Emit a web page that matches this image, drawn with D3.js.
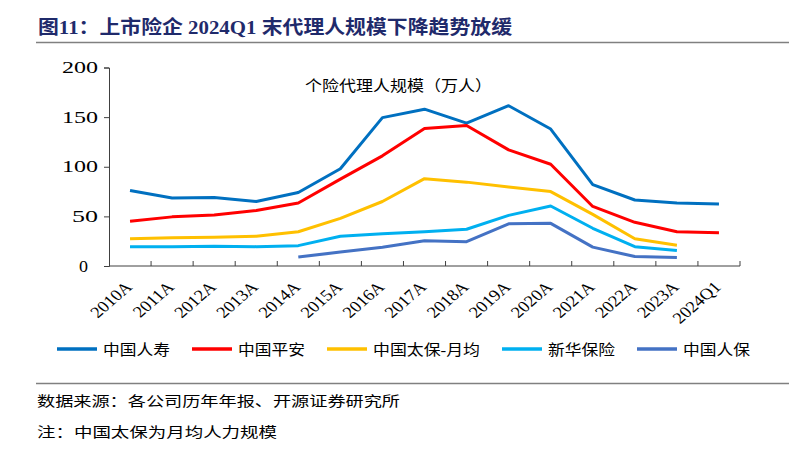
<!DOCTYPE html>
<html><head><meta charset="utf-8">
<script src="https://cdn.jsdelivr.net/npm/d3@7"></script>
<style>
body{margin:0;background:#fff;}
svg{display:block;}
</style></head><body>
<svg id="c" width="789" height="464"></svg>
<script>
const categories = ["2010A","2011A","2012A","2013A","2014A","2015A","2016A","2017A","2018A","2019A","2020A","2021A","2022A","2023A","2024Q1"];
const chinaLife = [76,68.5,69,65,74,98,149.5,158,144,161.5,138,82,66.5,63.5,62.5];
const pingAn = [45,49.5,51.5,56,63.5,87.5,111,138.5,141.5,117,102.5,60,44,34.5,33.5];
const cpic = [27.5,28.5,29,30,34.5,48,65,88,84.5,79.5,75,52,27.5,21,null];
const nci = [19.5,19.5,20,19.5,20.5,30,32.5,34.5,37,51,60.5,38,19.5,15.5,null];
const picc = [null,null,null,null,9,14,19,25.5,24.5,42.5,43,19,9.5,8.5,null];
const yTicks = [0,50,100,150,200];
const seriesNames = ["中国人寿","中国平安","中国太保-月均","新华保险","中国人保"];
const seriesColors = ["#0070C0","#FF0000","#FFC000","#00B0F0","#4472C4"];
const seriesData = [chinaLife, pingAn, cpic, nci, picc];

const svg = d3.select("#c");
const serif = "'Liberation Serif','Times New Roman','Noto Sans CJK SC',serif";
const cjk = "'Liberation Serif','Noto Sans CJK SC',serif";

function stretchText(x, y, txt, size, len, opts={}){
  return svg.append("text").attr("x",x).attr("y",y)
    .attr("font-family",cjk).attr("font-size",size)
    .attr("fill",opts.fill||"#000").attr("font-weight",opts.weight||"normal")
    .attr("textLength",len).attr("lengthAdjust","spacingAndGlyphs").text(txt);
}

// title
stretchText(38,34,"图11：上市险企 2024Q1 末代理人规模下降趋势放缓",19,474,{fill:"#1F2A6B",weight:"bold"});
svg.append("line").attr("x1",36).attr("x2",789).attr("y1",42.5).attr("y2",42.5)
  .attr("stroke","#808080").attr("stroke-width",1.5);

const pLeft=109, pRight=740, pTop=67.5, pBottom=266;
const x = d3.scaleBand().domain(categories).range([pLeft,pRight]);
const y = d3.scaleLinear().domain([0,200]).range([pBottom,pTop]);

// y axis
const ya = svg.append("g").attr("transform",`translate(${pLeft},0)`)
  .call(d3.axisLeft(y).tickValues(yTicks).tickSize(5).tickPadding(6));
ya.select(".domain").attr("stroke","#404040");
ya.selectAll(".tick line").attr("stroke","#404040");
ya.selectAll("text").attr("font-family",serif).attr("font-size",16).attr("fill","#000")
  .attr("lengthAdjust","spacingAndGlyphs")
  .attr("textLength",d=>String(d).length===3?36:(String(d).length===2?26:9))
  .attr("dx",d=>d===0?-10:0);

// x axis
const xa = svg.append("g").attr("transform",`translate(0,${pBottom})`);
xa.append("line").attr("x1",pLeft).attr("x2",pRight).attr("y1",0).attr("y2",0).attr("stroke","#404040");
const bounds = categories.map(c=>x(c)+x.bandwidth());
xa.selectAll("line.t").data(bounds).join("line").attr("class","t")
  .attr("x1",d=>d).attr("x2",d=>d).attr("y1",0).attr("y2",-5).attr("stroke","#404040");
xa.selectAll("text").data(categories).join("text")
  .attr("transform",d=>`translate(${x(d)+x.bandwidth()/2+3},${22}) scale(1.15,1) rotate(-45)`)
  .attr("text-anchor","end").attr("font-family",serif).attr("font-size",16).attr("fill","#000")
  .text(d=>d);

// inner title
stretchText(305,91,"个险代理人规模（万人）",15,187);

// lines
const line = d3.line().defined(d=>d.v!=null)
  .x(d=>x(d.c)+x.bandwidth()/2).y(d=>y(d.v));
seriesData.forEach((arr,i)=>{
  svg.append("path").datum(categories.map((c,j)=>({c,v:arr[j]})))
    .attr("d",line).attr("fill","none").attr("stroke",seriesColors[i])
    .attr("stroke-width",3).attr("stroke-linejoin","round");
});

// legend
const legX = [57,192,327,502,637];
const legW = [67,67,107,67,67];
seriesNames.forEach((n,i)=>{
  svg.append("line").attr("x1",legX[i]).attr("x2",legX[i]+40).attr("y1",349).attr("y2",349)
    .attr("stroke",seriesColors[i]).attr("stroke-width",3.5);
  stretchText(legX[i]+46,355,n,15,legW[i]);
});

// footer
svg.append("line").attr("x1",36).attr("x2",789).attr("y1",383.5).attr("y2",383.5)
  .attr("stroke","#808080").attr("stroke-width",1.5);
stretchText(37,406,"数据来源：各公司历年年报、开源证券研究所",14,363);
stretchText(37,437,"注：中国太保为月均人力规模",14,240);
</script></body></html>
